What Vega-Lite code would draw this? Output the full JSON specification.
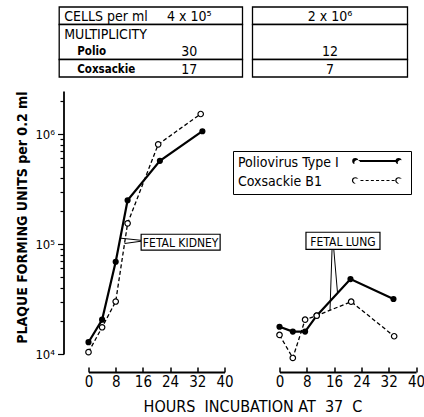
{
  "$schema": "https://vega.github.io/schema/vega-lite/v6.json",
  "background": "white",
  "padding": {"left": 14.5, "top": 6, "right": 0, "bottom": 0},
  "config": {
    "font": "DejaVu Sans Condensed",
    "view": {"stroke": null},
    "axis": {"domainColor": "black", "tickColor": "black", "labelColor": "black", "titleColor": "black", "grid": false},
    "legend": {
      "orient": "none", "legendX": 144.5, "legendY": 144, "title": null,
      "symbolSize": 100, "symbolStrokeWidth": 1, "symbolStrokeColor": "black", "symbolFillColor": "white", "symbolOpacity": 1,
      "labelFontSize": 14, "labelColor": "black", "labelOffset": -14, "labelLimit": 300,
      "strokeColor": "black", "padding": 5, "rowPadding": 4.5
    }
  },
  "datasets": {
    "curves": [
      {"tissue": "Fetal kidney", "virus": "Poliovirus Type I", "hours": 0, "pfu": 12800},
      {"tissue": "Fetal kidney", "virus": "Poliovirus Type I", "hours": 4, "pfu": 20500},
      {"tissue": "Fetal kidney", "virus": "Poliovirus Type I", "hours": 8, "pfu": 69000},
      {"tissue": "Fetal kidney", "virus": "Poliovirus Type I", "hours": 11.5, "pfu": 250000},
      {"tissue": "Fetal kidney", "virus": "Poliovirus Type I", "hours": 21, "pfu": 570000},
      {"tissue": "Fetal kidney", "virus": "Poliovirus Type I", "hours": 33.5, "pfu": 1060000},
      {"tissue": "Fetal kidney", "virus": "Coxsackie B1", "hours": 0, "pfu": 10400},
      {"tissue": "Fetal kidney", "virus": "Coxsackie B1", "hours": 4, "pfu": 17500},
      {"tissue": "Fetal kidney", "virus": "Coxsackie B1", "hours": 8, "pfu": 30000},
      {"tissue": "Fetal kidney", "virus": "Coxsackie B1", "hours": 11.5, "pfu": 154000},
      {"tissue": "Fetal kidney", "virus": "Coxsackie B1", "hours": 20.5, "pfu": 805000},
      {"tissue": "Fetal kidney", "virus": "Coxsackie B1", "hours": 33, "pfu": 1520000},
      {"tissue": "Fetal lung", "virus": "Poliovirus Type I", "hours": 0, "pfu": 17700},
      {"tissue": "Fetal lung", "virus": "Poliovirus Type I", "hours": 3.9, "pfu": 16000},
      {"tissue": "Fetal lung", "virus": "Poliovirus Type I", "hours": 7.5, "pfu": 16000},
      {"tissue": "Fetal lung", "virus": "Poliovirus Type I", "hours": 10.9, "pfu": 22300},
      {"tissue": "Fetal lung", "virus": "Poliovirus Type I", "hours": 20.8, "pfu": 48000},
      {"tissue": "Fetal lung", "virus": "Poliovirus Type I", "hours": 33.4, "pfu": 31600},
      {"tissue": "Fetal lung", "virus": "Coxsackie B1", "hours": 0, "pfu": 14900},
      {"tissue": "Fetal lung", "virus": "Coxsackie B1", "hours": 3.9, "pfu": 9200},
      {"tissue": "Fetal lung", "virus": "Coxsackie B1", "hours": 7.5, "pfu": 20500},
      {"tissue": "Fetal lung", "virus": "Coxsackie B1", "hours": 10.9, "pfu": 22300},
      {"tissue": "Fetal lung", "virus": "Coxsackie B1", "hours": 21, "pfu": 29900},
      {"tissue": "Fetal lung", "virus": "Coxsackie B1", "hours": 33.6, "pfu": 14500}
    ],
    "notes": [
      {"tissue": "Fetal kidney", "label": "FETAL KIDNEY", "hours": 27.1, "pfu": 104000},
      {"tissue": "Fetal lung", "label": "FETAL LUNG", "hours": 18.6, "pfu": 107000}
    ],
    "pointers": [
      {"tissue": "Fetal kidney", "hours": 15.5, "pfu": 108000, "hours2": 9.4, "pfu2": 113000},
      {"tissue": "Fetal kidney", "hours": 15.5, "pfu": 106000, "hours2": 10.6, "pfu2": 101000},
      {"tissue": "Fetal lung", "hours": 15.4, "pfu": 90000, "hours2": 14.8, "pfu2": 25000},
      {"tissue": "Fetal lung", "hours": 15.9, "pfu": 90000, "hours2": 17, "pfu2": 36000}
    ],
    "key_samples": [
      {"virus": "Poliovirus Type I", "hours": 22.2, "hours2": 34.9, "pfu": 568000},
      {"virus": "Coxsackie B1", "hours": 22.2, "hours2": 34.9, "pfu": 378000}
    ],
    "boxes": [
      {"first": "cells", "last": "cells"},
      {"first": "mult", "last": "polio"},
      {"first": "cox", "last": "cox"}
    ],
    "tl_main": [
      {"row": "cells", "text": "CELLS per ml"},
      {"row": "mult", "text": "MULTIPLICITY"}
    ],
    "tl_sub": [
      {"row": "polio", "text": "Polio"},
      {"row": "cox", "text": "Coxsackie"}
    ],
    "tl_values": [
      {"row": "cells", "text": "4 x 10⁵"},
      {"row": "polio", "text": "30"},
      {"row": "cox", "text": "17"}
    ],
    "tr_values": [
      {"row": "cells", "text": "2 x 10⁶"},
      {"row": "polio", "text": "12"},
      {"row": "cox", "text": "7"}
    ]
  },
  "spacing": 12,
  "vconcat": [
    {
      "spacing": 10,
      "bounds": "flush",
      "hconcat": [
        {
          "width": 154,
          "height": 70,
          "layer": [
            {
              "data": {"name": "boxes"},
              "mark": {"type": "rect", "fill": "white", "stroke": "black", "strokeWidth": 1.3},
              "encoding": {
                "x": {"datum": "label", "type": "nominal", "bandPosition": 0, "scale": {"domain": ["label", "value"], "range": [-29.3, 154], "paddingInner": 0, "paddingOuter": 0}, "axis": null},
                "x2": {"datum": "value", "bandPosition": 1},
                "y": {"field": "first", "type": "nominal", "bandPosition": 0, "scale": {"domain": ["cells", "mult", "polio", "cox"], "paddingInner": 0, "paddingOuter": 0}, "axis": null},
                "y2": {"field": "last", "bandPosition": 1}
              }
            },
            {
              "data": {"name": "tl_main"},
              "mark": {"type": "text", "align": "left", "baseline": "middle", "dx": 5, "dy": 1.5, "fontSize": 14, "color": "black"},
              "encoding": {
                "x": {"datum": "label", "type": "nominal", "bandPosition": 0},
                "y": {"field": "row", "type": "nominal"},
                "text": {"field": "text"}
              }
            },
            {
              "data": {"name": "tl_sub"},
              "mark": {"type": "text", "align": "left", "baseline": "middle", "dx": 18, "dy": 1.5, "fontSize": 11.5, "fontWeight": "bold", "color": "black"},
              "encoding": {
                "x": {"datum": "label", "type": "nominal", "bandPosition": 0},
                "y": {"field": "row", "type": "nominal"},
                "text": {"field": "text"}
              }
            },
            {
              "data": {"name": "tl_values"},
              "mark": {"type": "text", "align": "center", "baseline": "middle", "dy": 1.5, "fontSize": 14, "color": "black"},
              "encoding": {
                "x": {"datum": "value", "type": "nominal", "bandPosition": 0.42},
                "y": {"field": "row", "type": "nominal"},
                "text": {"field": "text"}
              }
            }
          ]
        },
        {
          "width": 155,
          "height": 70,
          "layer": [
            {
              "data": {"name": "boxes"},
              "mark": {"type": "rect", "fill": "white", "stroke": "black", "strokeWidth": 1.3},
              "encoding": {
                "y": {"field": "first", "type": "nominal", "bandPosition": 0, "scale": {"domain": ["cells", "mult", "polio", "cox"], "paddingInner": 0, "paddingOuter": 0}, "axis": null},
                "y2": {"field": "last", "bandPosition": 1}
              }
            },
            {
              "data": {"name": "tr_values"},
              "mark": {"type": "text", "align": "center", "baseline": "middle", "dy": 1.5, "fontSize": 14, "color": "black"},
              "encoding": {
                "y": {"field": "row", "type": "nominal"},
                "text": {"field": "text"}
              }
            }
          ]
        }
      ]
    },
    {
      "spacing": 55,
      "bounds": "flush",
      "hconcat": [
        {
          "width": 136,
          "height": 263,
          "encoding": {
            "x": {
              "field": "hours", "type": "quantitative",
              "scale": {"domain": [0, 40], "nice": false, "zero": false},
              "axis": {
                "values": [0, 8, 16, 24, 32, 40], "offset": 18, "tickSize": -5, "tickWidth": 1.5, "domainWidth": 1.8,
                "labelFontSize": 15, "labelPadding": 7, "labelFlush": false, "labelOverlap": false,
                "title": "HOURS\u00a0\u00a0INCUBATION\u00a0AT\u00a0\u00a037\u00a0\u00a0C", "titleFontSize": 16, "titleFontWeight": "normal",
                "titleX": 164, "titleY": 39, "titleAlign": "center", "titleBaseline": "alphabetic", "titleAnchor": null
              }
            },
            "y": {
              "field": "pfu", "type": "quantitative",
              "scale": {"type": "log", "domain": [10000, 2460000], "nice": false},
              "axis": {
                "orient": "left", "offset": 25,
                "values": [10000, 20000, 30000, 40000, 50000, 60000, 70000, 80000, 90000, 100000, 200000, 300000, 400000, 500000, 600000, 700000, 800000, 900000, 1000000, 2000000],
                "labelExpr": "datum.value == 10000 ? '10⁴' : datum.value == 100000 ? '10⁵' : datum.value == 1000000 ? '10⁶' : ''",
                "tickSize": {"condition": {"test": "indexof([10000, 100000, 1000000], datum.value) >= 0", "value": 6}, "value": 3.5},
                "tickWidth": 1.2, "domainWidth": 1.8, "labelFontSize": 13, "labelPadding": 3, "labelOverlap": false, "labelBaseline": "middle",
                "title": "PLAQUE FORMING UNITS per 0.2 ml", "titleFontSize": 14, "titleFontWeight": "bold", "titleAnchor": "end", "titlePadding": 5.5
              }
            }
          },
          "layer": [
            {
              "data": {"name": "pointers"},
              "transform": [{"filter": "datum.tissue == 'Fetal kidney'"}],
              "mark": {"type": "rule", "color": "black", "strokeWidth": 1},
              "encoding": {"x2": {"field": "hours2"}, "y2": {"field": "pfu2"}}
            },
            {
              "data": {"name": "curves"},
              "transform": [{"filter": "datum.tissue == 'Fetal kidney' && datum.virus == 'Poliovirus Type I'"}],
              "mark": {"type": "line", "color": "black", "strokeWidth": 2.2},
              "encoding": {"order": {"field": "hours"}}
            },
            {
              "data": {"name": "curves"},
              "transform": [{"filter": "datum.tissue == 'Fetal kidney' && datum.virus == 'Coxsackie B1'"}],
              "mark": {"type": "line", "color": "black", "strokeWidth": 1.3, "strokeDash": [4, 2.5]},
              "encoding": {"order": {"field": "hours"}}
            },
            {
              "data": {"name": "curves"},
              "transform": [{"filter": "datum.tissue == 'Fetal kidney' && datum.virus == 'Poliovirus Type I'"}],
              "mark": {"type": "point", "filled": true, "color": "black", "size": 38, "opacity": 1},
              "encoding": {}
            },
            {
              "data": {"name": "curves"},
              "transform": [{"filter": "datum.tissue == 'Fetal kidney' && datum.virus == 'Coxsackie B1'"}],
              "mark": {"type": "point", "filled": false, "fill": "white", "stroke": "black", "strokeWidth": 1.2, "size": 30, "opacity": 1},
              "encoding": {}
            },
            {
              "data": {"name": "notes"},
              "transform": [{"filter": "datum.tissue == 'Fetal kidney'"}],
              "mark": {"type": "point", "shape": "M-1,-0.2L1,-0.2L1,0.2L-1,0.2Z", "size": 6241, "filled": false, "fill": "white", "stroke": "black", "strokeWidth": 1.2, "opacity": 1},
              "encoding": {}
            },
            {
              "data": {"name": "notes"},
              "transform": [{"filter": "datum.tissue == 'Fetal kidney'"}],
              "mark": {"type": "text", "fontSize": 12, "color": "black", "baseline": "middle", "dy": 1},
              "encoding": {"text": {"field": "label"}}
            }
          ]
        },
        {
          "width": 136.5,
          "height": 263,
          "encoding": {
            "x": {
              "field": "hours", "type": "quantitative",
              "scale": {"domain": [0, 40], "nice": false, "zero": false},
              "axis": {
                "values": [0, 8, 16, 24, 32, 40], "offset": 18, "tickSize": -5, "tickWidth": 1.5, "domainWidth": 1.8,
                "labelFontSize": 15, "labelPadding": 7, "labelFlush": false, "labelOverlap": false, "title": null
              }
            },
            "y": {
              "field": "pfu", "type": "quantitative",
              "scale": {"type": "log", "domain": [10000, 2460000], "nice": false},
              "axis": null
            }
          },
          "layer": [
            {
              "data": {"name": "pointers"},
              "transform": [{"filter": "datum.tissue == 'Fetal lung'"}],
              "mark": {"type": "rule", "color": "black", "strokeWidth": 1},
              "encoding": {"x2": {"field": "hours2"}, "y2": {"field": "pfu2"}}
            },
            {
              "data": {"name": "curves"},
              "transform": [{"filter": "datum.tissue == 'Fetal lung' && datum.virus == 'Poliovirus Type I'"}],
              "mark": {"type": "line", "color": "black", "strokeWidth": 2.2},
              "encoding": {"order": {"field": "hours"}}
            },
            {
              "data": {"name": "curves"},
              "transform": [{"filter": "datum.tissue == 'Fetal lung' && datum.virus == 'Coxsackie B1'"}],
              "mark": {"type": "line", "color": "black", "strokeWidth": 1.3, "strokeDash": [4, 2.5]},
              "encoding": {"order": {"field": "hours"}}
            },
            {
              "data": {"name": "curves"},
              "transform": [{"filter": "datum.tissue == 'Fetal lung' && datum.virus == 'Poliovirus Type I'"}],
              "mark": {"type": "point", "filled": true, "color": "black", "size": 38, "opacity": 1},
              "encoding": {}
            },
            {
              "data": {"name": "curves"},
              "transform": [{"filter": "datum.tissue == 'Fetal lung' && datum.virus == 'Coxsackie B1'"}],
              "mark": {"type": "point", "filled": false, "fill": "white", "stroke": "black", "strokeWidth": 1.2, "size": 30, "opacity": 1},
              "encoding": {}
            },
            {
              "data": {"name": "notes"},
              "transform": [{"filter": "datum.tissue == 'Fetal lung'"}],
              "mark": {"type": "point", "shape": "M-1,-0.23L1,-0.23L1,0.23L-1,0.23Z", "size": 5476, "filled": false, "fill": "white", "stroke": "black", "strokeWidth": 1.2, "opacity": 1},
              "encoding": {}
            },
            {
              "data": {"name": "notes"},
              "transform": [{"filter": "datum.tissue == 'Fetal lung'"}],
              "mark": {"type": "text", "fontSize": 12, "color": "black", "baseline": "middle", "dy": 1},
              "encoding": {"text": {"field": "label"}}
            },
            {
              "data": {"name": "key_samples"},
              "transform": [{"filter": "datum.virus == 'Poliovirus Type I'"}],
              "mark": {"type": "rule", "color": "black", "strokeWidth": 2.2},
              "encoding": {"x2": {"field": "hours2"}}
            },
            {
              "data": {"name": "key_samples"},
              "transform": [{"filter": "datum.virus == 'Coxsackie B1'"}],
              "mark": {"type": "rule", "color": "black", "strokeWidth": 1.2, "strokeDash": [3, 2.2]},
              "encoding": {"x2": {"field": "hours2"}}
            },
            {
              "data": {"name": "key_samples"},
              "transform": [{"filter": "datum.virus == 'Poliovirus Type I'"}, {"fold": ["hours", "hours2"], "as": ["end", "at"]}],
              "mark": {"type": "point", "filled": true, "color": "black", "size": 38, "opacity": 1},
              "encoding": {"x": {"field": "at", "type": "quantitative"}}
            },
            {
              "data": {"name": "key_samples"},
              "transform": [{"filter": "datum.virus == 'Coxsackie B1'"}, {"fold": ["hours", "hours2"], "as": ["end", "at"]}],
              "mark": {"type": "point", "filled": false, "fill": "white", "stroke": "black", "strokeWidth": 1.2, "size": 30, "opacity": 1},
              "encoding": {"x": {"field": "at", "type": "quantitative"}}
            },
            {
              "data": {"name": "curves"},
              "transform": [{"filter": "false"}],
              "mark": {"type": "point", "filled": false, "fill": "white", "stroke": "black", "strokeWidth": 1, "opacity": 1},
              "encoding": {
                "shape": {
                  "field": "virus", "type": "nominal",
                  "scale": {
                    "domain": ["Poliovirus Type I", "Coxsackie B1"],
                    "range": [
                      "M23.06,0A0.6,0.6,0,1,1,21.86,0A0.6,0.6,0,1,1,23.06,0ZM31.74,0A0.6,0.6,0,1,1,30.54,0A0.6,0.6,0,1,1,31.74,0ZM23.06,-0.1L30.54,-0.1M23.06,0.1L30.54,0.1",
                      "M23.06,0A0.6,0.6,0,1,1,21.86,0A0.6,0.6,0,1,1,23.06,0ZM31.74,0A0.6,0.6,0,1,1,30.54,0A0.6,0.6,0,1,1,31.74,0ZM23.2,0L23.8,0M24.25,0L24.85,0M25.3,0L25.9,0M26.35,0L26.95,0M27.4,0L28,0M28.45,0L29.05,0M29.5,0L30.1,0"
                    ]
                  },
                  "legend": {"title": null}
                }
              }
            }
          ]
        }
      ]
    }
  ]
}
